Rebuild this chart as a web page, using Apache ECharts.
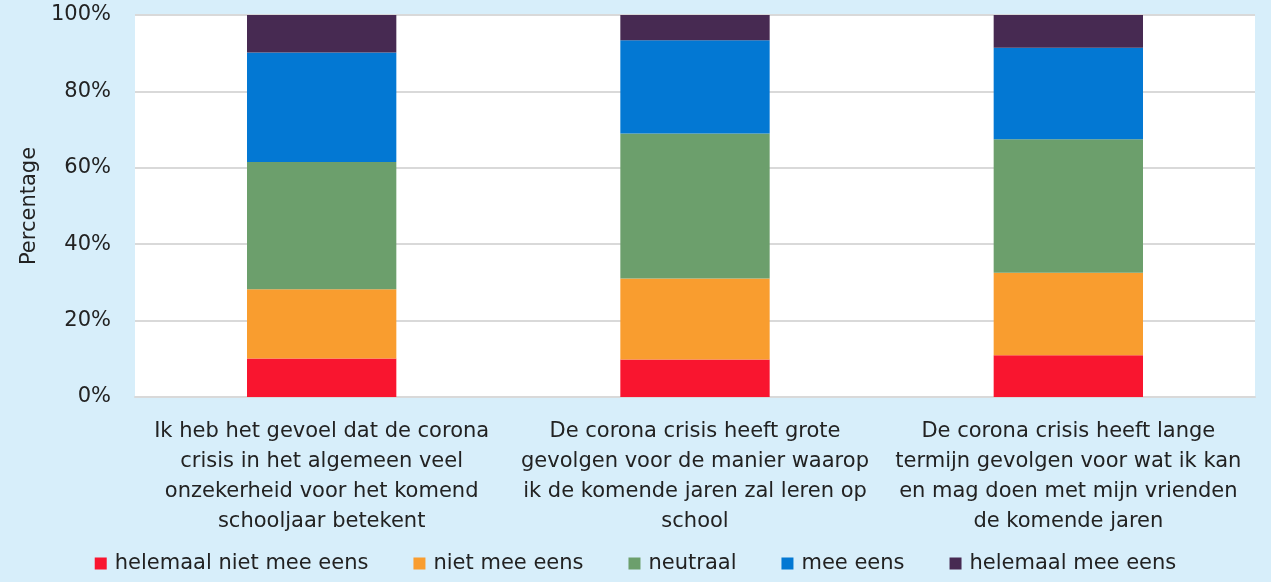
<!DOCTYPE html>
<html>
<head>
<meta charset="utf-8">
<script src="https://cdn.jsdelivr.net/npm/echarts@6/dist/echarts.min.js"></script>
<style>
  html, body { margin: 0; padding: 0; background: #d7eefa; }
  #chart { width: 1271px; height: 582px; }
</style>
</head>
<body>
<div id="chart"></div>
<script>
// statements (x axis)
const categories = [
  'Ik heb het gevoel dat de corona\ncrisis in het algemeen veel\nonzekerheid voor het komend\nschooljaar betekent',
  'De corona crisis heeft grote\ngevolgen voor de manier waarop\nik de komende jaren zal leren op\nschool',
  'De corona crisis heeft lange\ntermijn gevolgen voor wat ik kan\nen mag doen met mijn vrienden\nde komende jaren'
]

// percentages per answer
const helemaalNietMeeEens = [10.1, 9.8, 10.9]
const nietMeeEens = [18.1, 21.2, 21.6]
const neutraal = [33.3, 38.0, 35.0]
const meeEens = [28.7, 24.4, 23.9]
const helemaalMeeEens = [9.8, 6.6, 8.6]

const seriesNames = ['helemaal niet mee eens', 'niet mee eens', 'neutraal', 'mee eens', 'helemaal mee eens']
const seriesData = [helemaalNietMeeEens, nietMeeEens, neutraal, meeEens, helemaalMeeEens]
const colors = ['#f9152f', '#f99d2f', '#6c9f6c', '#0378d3', '#472a52']

const font = 'DejaVu Sans, Liberation Sans, sans-serif'

const chart = echarts.init(document.getElementById('chart'))
chart.setOption({
  backgroundColor: '#d7eefa',
  textStyle: { fontFamily: font },
  color: colors,
  grid: {
    left: 135,
    right: 16,
    top: 15,
    bottom: 185,
    show: true,
    backgroundColor: '#ffffff',
    borderWidth: 0
  },
  legend: {
    bottom: 3,
    left: 'center',
    icon: 'rect',
    itemWidth: 12,
    itemHeight: 12,
    itemGap: 45,
    textStyle: { fontSize: 21, color: '#222', fontFamily: font, padding: [0, 0, 0, 3] },
    data: seriesNames
  },
  xAxis: {
    type: 'category',
    data: categories,
    axisTick: { show: false },
    axisLine: { lineStyle: { color: '#d9d9d9', width: 2 } },
    axisLabel: {
      interval: 0,
      fontSize: 21,
      lineHeight: 30,
      color: '#222',
      fontFamily: font,
      margin: 20
    }
  },
  yAxis: {
    type: 'value',
    min: 0,
    max: 100,
    interval: 20,
    name: 'Percentage',
    nameLocation: 'middle',
    nameGap: 90,
    nameTextStyle: { fontSize: 21, color: '#222', fontFamily: font },
    axisLine: { show: false },
    axisTick: { show: false },
    axisLabel: {
      formatter: '{value}%',
      fontSize: 21,
      color: '#222',
      fontFamily: font,
      margin: 24
    },
    splitLine: { lineStyle: { color: '#d9d9d9', width: 2 } }
  },
  series: seriesNames.map((name, i) => ({
    name: name,
    type: 'bar',
    stack: 'total',
    barWidth: '40%',
    data: seriesData[i]
  }))
})
</script>
</body>
</html>
